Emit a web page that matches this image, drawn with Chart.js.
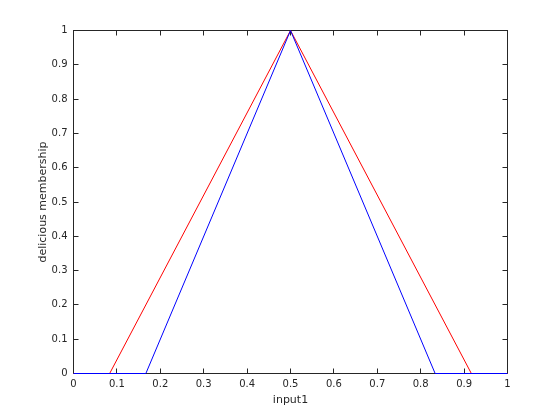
<!DOCTYPE html>
<html>
<head>
<meta charset="utf-8">
<script src="https://cdn.jsdelivr.net/npm/chart.js@4/dist/chart.umd.min.js"></script>
<style>
  body { margin: 0; background: #fff; }
  canvas { display: block; }
</style>
</head>
<body>
<canvas id="chart" width="560" height="420"></canvas>
<script>
// membership functions, x = input1, y = membership degree
const redX = [0, 0.0833, 0.5, 0.9167, 1];
const redY = [0, 0, 1, 0, 0];
const blueX = [0, 0.1667, 0.5, 0.8333, 1];
const blueY = [0, 0, 1, 0, 0];
const xTicks = [0, 0.1, 0.2, 0.3, 0.4, 0.5, 0.6, 0.7, 0.8, 0.9, 1];
const yTicks = [0, 0.1, 0.2, 0.3, 0.4, 0.5, 0.6, 0.7, 0.8, 0.9, 1];

const axisColor = '#262626';
const tickFont = { family: 'DejaVu Sans', size: 10 };

function toPoints(xs, ys) {
    return xs.map((x, i) => ({ x: x, y: ys[i] }));
}

// matlab style box with inward ticks on all four sides, drawn under the lines.
// chart area edges sit on half pixels so 1px lines stay crisp
const boxPlugin = {
    id: 'box',
    beforeDatasetsDraw(chart) {
        const ctx = chart.ctx;
        const a = chart.chartArea;
        const xs = chart.scales.x;
        const ys = chart.scales.y;
        const len = 5;
        ctx.save();
        ctx.strokeStyle = axisColor;
        ctx.lineWidth = 1;
        ctx.beginPath();
        xTicks.forEach(v => {
            const px = Math.floor(xs.getPixelForValue(v)) + 0.5;
            ctx.moveTo(px, a.bottom);
            ctx.lineTo(px, a.bottom - len);
            ctx.moveTo(px, a.top);
            ctx.lineTo(px, a.top + len);
        });
        yTicks.forEach(v => {
            const py = Math.floor(ys.getPixelForValue(v)) + 0.5;
            ctx.moveTo(a.left, py);
            ctx.lineTo(a.left + len, py);
            ctx.moveTo(a.right, py);
            ctx.lineTo(a.right - len, py);
        });
        ctx.stroke();
        ctx.strokeRect(a.left, a.top, a.right - a.left, a.bottom - a.top);
        ctx.restore();
    }
};

new Chart(document.getElementById('chart'), {
    type: 'scatter',
    data: {
        datasets: [
            {
                label: 'mf1',
                data: toPoints(redX, redY),
                showLine: true,
                borderColor: '#ff0000',
                borderWidth: 1,
                pointRadius: 0,
                tension: 0,
                clip: false,
                order: 1
            },
            {
                label: 'mf2',
                data: toPoints(blueX, blueY),
                showLine: true,
                borderColor: '#0000ff',
                borderWidth: 1,
                pointRadius: 0,
                tension: 0,
                clip: false,
                order: 0
            }
        ]
    },
    options: {
        responsive: false,
        animation: false,
        layout: { padding: { left: 0.5, right: 52.5, top: 30.5, bottom: 0 } },
        plugins: {
            legend: { display: false },
            tooltip: { enabled: false }
        },
        scales: {
            x: {
                type: 'linear',
                min: 0,
                max: 1,
                afterBuildTicks: s => { s.ticks = xTicks.map(v => ({ value: v })); },
                afterFit: s => { s.height = 46.5; },
                grid: { display: false, drawTicks: false },
                border: { display: false },
                ticks: {
                    padding: 5,
                    color: axisColor,
                    font: tickFont,
                    maxRotation: 0,
                    callback: v => String(v)
                },
                title: {
                    display: true,
                    text: 'input1',
                    color: axisColor,
                    font: { family: 'DejaVu Sans', size: 11 },
                    padding: { top: 13, bottom: 13 }
                }
            },
            y: {
                type: 'linear',
                min: 0,
                max: 1,
                afterBuildTicks: s => { s.ticks = yTicks.map(v => ({ value: v })); },
                afterFit: s => { s.width = 73; },
                grid: { display: false, drawTicks: false },
                border: { display: false },
                ticks: {
                    padding: 6,
                    color: axisColor,
                    font: tickFont,
                    callback: v => String(v)
                },
                title: {
                    display: true,
                    text: 'delicious membership',
                    color: axisColor,
                    font: { family: 'DejaVu Sans', size: 11 },
                    padding: { top: 36, bottom: 36 }
                }
            }
        }
    },
    plugins: [boxPlugin]
});
</script>
</body>
</html>
